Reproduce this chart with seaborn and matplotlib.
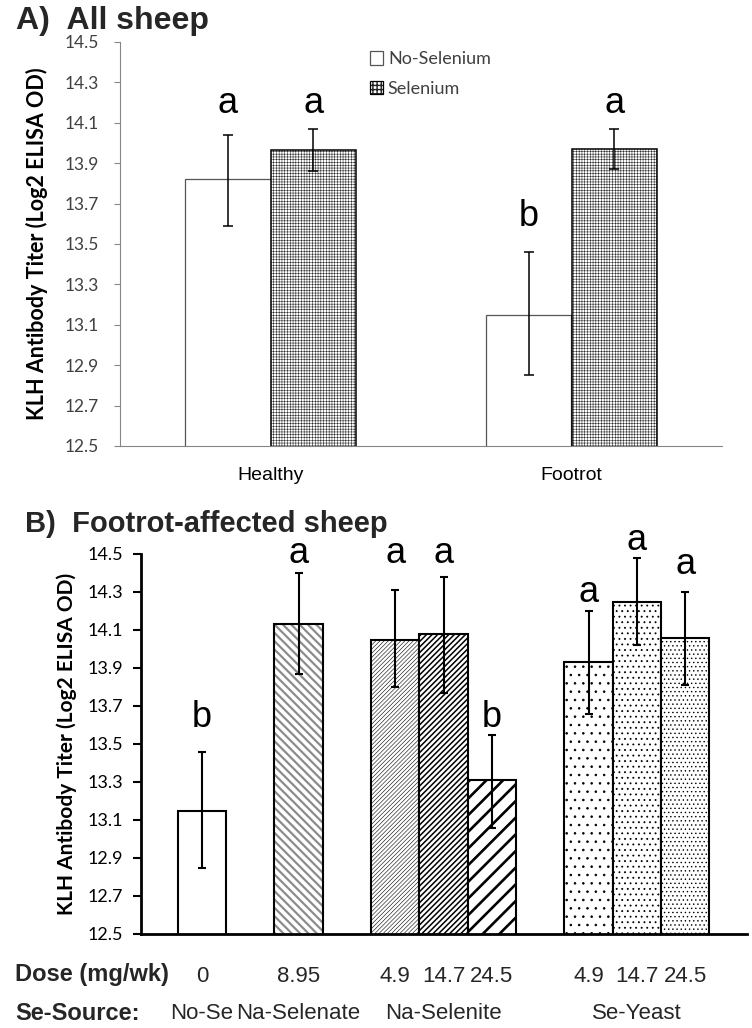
import numpy as np
import pandas as pd
import matplotlib
matplotlib.use("Agg")
import matplotlib.pyplot as plt
import matplotlib.transforms as mtransforms
from matplotlib.colors import to_rgba
from matplotlib.patches import Patch
import seaborn as sns

# ---------------- Panel A data ----------------
statusA = ["Healthy", "Footrot"]
treatA = ["No-Selenium", "Selenium"]
meanA_noSe = [13.82, 13.15]
lowA_noSe = [13.59, 12.85]
highA_noSe = [14.04, 13.46]
meanA_Se = [13.965, 13.97]
lowA_Se = [13.86, 13.87]
highA_Se = [14.07, 14.07]
lettersA_noSe = ["a", "b"]
lettersA_Se = ["a", "a"]

# ---------------- Panel B data ----------------
sourceB = ["No-Se", "Na-Selenate", "Na-Selenite", "Na-Selenite", "Na-Selenite",
           "Se-Yeast", "Se-Yeast", "Se-Yeast"]
doseB = ["0", "8.95", "4.9", "14.7", "24.5", "4.9", "14.7", "24.5"]
meanB = [13.15, 14.13, 14.05, 14.08, 13.31, 13.93, 14.25, 14.06]
lowB = [12.85, 13.87, 13.80, 13.77, 13.06, 13.66, 14.02, 13.81]
highB = [13.46, 14.40, 14.31, 14.38, 13.55, 14.20, 14.48, 14.30]
lettersB = ["b", "a", "a", "a", "b", "a", "a", "a"]

yticks = [12.5, 12.7, 12.9, 13.1, 13.3, 13.5, 13.7, 13.9, 14.1, 14.3, 14.5]
ylabel = "KLH Antibody Titer (Log2 ELISA OD)"

# annotation baselines (data units) for significance letters
letter_baseA_noSe = [14.15, 13.59]
letter_baseA_Se = [14.15, 14.15]
letter_baseB = [13.59, 14.453, 14.453, 14.453, 13.59, 14.247, 14.521, 14.395]

# styles for panel B bars: (hatch, hatch colour, hatch linewidth)
stylesB = [(None, "black", 1.0),
           ("\\\\\\\\", "#8c8c8c", 1.6),
           ("////////", "black", 0.4),
           ("//////", "black", 1.1),
           ("//", "black", 1.9),
           ("..", "black", 0.6),
           ("...", "black", 0.6),
           ("....", "black", 0.5)]

sns.set_style("white")
plt.rcParams["font.family"] = ["Lato", "DejaVu Sans"]
ARIAL = ["Liberation Sans", "DejaVu Sans"]


def set_hatch_style(p, color, lw):
    if hasattr(p, "set_hatchcolor"):
        p.set_hatchcolor(color)
    else:
        p._hatch_color = to_rgba(color)
    if hasattr(p, "set_hatch_linewidth"):
        p.set_hatch_linewidth(lw)
    else:
        p._hatch_linewidth = lw


fig = plt.figure(figsize=(7.52, 10.28), dpi=100)
W, H = 752.0, 1028.0
axA = fig.add_axes([120 / W, 1 - 446 / H, 602 / W, 404 / H])
axB = fig.add_axes([141 / W, 1 - 934 / H, 606 / W, 380 / H])

# ---------------- Panel A ----------------
dfA = pd.DataFrame({
    "status": statusA + statusA,
    "treatment": [treatA[0]] * 2 + [treatA[1]] * 2,
    "mean": meanA_noSe + meanA_Se,
    "low": lowA_noSe + lowA_Se,
    "high": highA_noSe + highA_Se,
    "letter": lettersA_noSe + lettersA_Se,
    "base": letter_baseA_noSe + letter_baseA_Se,
})
sns.barplot(data=dfA, x="status", y="mean", hue="treatment", order=statusA,
            hue_order=treatA, palette=["white", "white"], width=0.57,
            errorbar=None, legend=False, ax=axA)

gray = "#868686"
for p, (_, row) in zip(axA.patches, dfA.iterrows()):
    if row["treatment"] == "Selenium":
        p.set_edgecolor("black")
        p.set_linewidth(1.1)
        p.set_hatch("++++++")
        set_hatch_style(p, "#333333", 0.4)
    else:
        p.set_edgecolor("#555555")
        p.set_linewidth(0.9)
    xc = p.get_x() + p.get_width() / 2
    axA.errorbar(xc, row["mean"], yerr=[[row["mean"] - row["low"]], [row["high"] - row["mean"]]],
                 fmt="none", ecolor="black", elinewidth=1.1, capsize=3.3, capthick=1.1, zorder=5)
    axA.text(xc, row["base"], row["letter"], ha="center", va="baseline",
             fontsize=26, family=ARIAL, color="black", clip_on=False)

axA.set_ylim(12.5, 14.5)
axA.set_xlim(-0.5, 1.5)
axA.set_yticks(yticks)
axA.set_yticklabels([f"{v:.1f}" for v in yticks], fontsize=12.5, color="#404040")
axA.set_xticks([0, 1])
axA.set_xticklabels(statusA, fontsize=14, family=ARIAL, color="black")
axA.set_xticks([-0.5, 0.5, 1.5], minor=True)
axA.tick_params(axis="x", which="major", length=0, pad=15)
axA.tick_params(axis="x", which="minor", length=4, width=0.8, color=gray, direction="out")
axA.tick_params(axis="y", length=4, width=0.8, color=gray, direction="out", pad=11, left=True)
for s in ["top", "right"]:
    axA.spines[s].set_visible(False)
for s in ["left", "bottom"]:
    axA.spines[s].set_color(gray)
    axA.spines[s].set_linewidth(0.8)
axA.set_xlabel("")
axA.set_ylabel(ylabel, fontsize=15.5, fontweight="bold", color="black")
axA.yaxis.label.set_va("center")
axA.yaxis.set_label_coords(-0.138, 0.5)

h1 = Patch(facecolor="white", edgecolor="#555555", linewidth=0.9, label=treatA[0])
h2 = Patch(facecolor="white", edgecolor="black", linewidth=0.9, hatch="++++", label=treatA[1])
set_hatch_style(h2, "#222222", 0.6)
leg = axA.legend(handles=[h1, h2], loc="upper left", bbox_to_anchor=(0.415, 0.977),
                 frameon=False, fontsize=13, handlelength=0.75, handleheight=0.75,
                 handletextpad=0.25, labelspacing=0.75, borderaxespad=0, borderpad=0)
for t in leg.get_texts():
    t.set_color("#404040")

# ---------------- Panel B ----------------
pos = []
prev = None
cur = 0
for s in sourceB:
    if prev is not None:
        cur += 1 if s == prev else 2
    pos.append(cur)
    prev = s

dfB = pd.DataFrame({"pos": pos, "mean": meanB, "low": lowB, "high": highB,
                    "letter": lettersB, "base": letter_baseB, "dose": doseB,
                    "source": sourceB})
sns.barplot(data=dfB, x="pos", y="mean", native_scale=True, width=1.0,
            color="white", errorbar=None, ax=axB)
for p, (_, row), st in zip(axB.patches, dfB.iterrows(), stylesB):
    p.set_facecolor("white")
    p.set_edgecolor("black")
    p.set_linewidth(1.5)
    hatch, hc, hlw = st
    if hatch:
        p.set_hatch(hatch)
        set_hatch_style(p, hc, hlw)
    xc = p.get_x() + p.get_width() / 2
    axB.errorbar(xc, row["mean"], yerr=[[row["mean"] - row["low"]], [row["high"] - row["mean"]]],
                 fmt="none", ecolor="black", elinewidth=1.5, capsize=3, capthick=1.5, zorder=5)
    axB.text(xc, row["base"], row["letter"], ha="center", va="baseline",
             fontsize=26, family=ARIAL, color="black", clip_on=False)

axB.set_ylim(12.5, 14.5)
axB.set_xlim(-1.263, 11.28)
axB.set_yticks(yticks)
axB.set_yticklabels([f"{v:.1f}" for v in yticks], fontsize=13, color="black")
axB.set_xticks(pos)
axB.set_xticklabels(doseB, fontsize=16, family=ARIAL)
axB.tick_params(axis="x", length=0, pad=23)
axB.tick_params(axis="y", length=6, width=1.5, color="black", direction="out", pad=7, left=True)
for s in ["top", "right"]:
    axB.spines[s].set_visible(False)
for s in ["left", "bottom"]:
    axB.spines[s].set_color("black")
    axB.spines[s].set_linewidth(2.0)
axB.set_xlabel("")
axB.set_ylabel(ylabel, fontsize=15, fontweight="bold", color="black")
axB.yaxis.label.set_va("center")
axB.yaxis.set_label_coords(-0.122, 0.5)

trans = mtransforms.blended_transform_factory(axB.transData, axB.transAxes)
for src in dict.fromkeys(sourceB):
    xs = [x for x, s in zip(pos, sourceB) if s == src]
    axB.text(np.mean(xs), -0.208, src, transform=trans, ha="center", va="center",
             fontsize=16, family=ARIAL, clip_on=False)

# ---------------- figure texts ----------------
fig.text(16 / W, 1 - 29 / H, "A)  All sheep", fontsize=23, fontweight="bold",
         family=ARIAL, va="baseline", ha="left")
fig.text(25 / W, 1 - 532 / H, "B)  Footrot-affected sheep", fontsize=21,
         fontweight="bold", family=ARIAL, va="baseline", ha="left")
fig.text(15 / W, 1 - 975 / H, "Dose (mg/wk)", fontsize=17, fontweight="bold",
         family=ARIAL, va="center", ha="left")
fig.text(15 / W, 1 - 1013 / H, "Se-Source:", fontsize=17, fontweight="bold",
         family=ARIAL, va="center", ha="left")

fig.savefig("out.png", dpi=100)
